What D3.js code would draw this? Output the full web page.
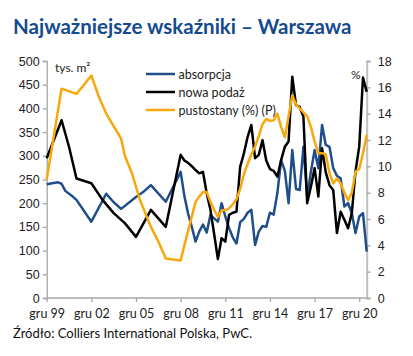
<!DOCTYPE html>
<html><head><meta charset="utf-8">
<script src="https://cdn.jsdelivr.net/npm/d3@7"></script>
<style>body{margin:0;background:#fff}svg{display:block}</style>
</head><body>
<svg id="c" width="413" height="356"></svg>
<script>
const quarters = ["1999Q4",
"2000Q1","2000Q2","2000Q3","2000Q4","2001Q1","2001Q2","2001Q3","2001Q4",
"2002Q1","2002Q2","2002Q3","2002Q4","2003Q1","2003Q2","2003Q3","2003Q4",
"2004Q1","2004Q2","2004Q3","2004Q4","2005Q1","2005Q2","2005Q3","2005Q4",
"2006Q1","2006Q2","2006Q3","2006Q4","2007Q1","2007Q2","2007Q3","2007Q4",
"2008Q1","2008Q2","2008Q3","2008Q4","2009Q1","2009Q2","2009Q3","2009Q4",
"2010Q1","2010Q2","2010Q3","2010Q4","2011Q1","2011Q2","2011Q3","2011Q4",
"2012Q1","2012Q2","2012Q3","2012Q4","2013Q1","2013Q2","2013Q3","2013Q4",
"2014Q1","2014Q2","2014Q3","2014Q4","2015Q1","2015Q2","2015Q3","2015Q4",
"2016Q1","2016Q2","2016Q3","2016Q4","2017Q1","2017Q2","2017Q3","2017Q4",
"2018Q1","2018Q2","2018Q3","2018Q4","2019Q1","2019Q2","2019Q3","2019Q4",
"2020Q1","2020Q2","2020Q3","2020Q4","2021Q1","2021Q2"];
const tickCategories = ["1999Q4","2002Q4","2005Q4","2008Q4","2011Q4","2014Q4","2017Q4","2020Q4"];
const tickLabels = ["gru 99","gru 02","gru 05","gru 08","gru 11","gru 14","gru 17","gru 20"];
const leftTicks = [0,50,100,150,200,250,300,350,400,450,500];
const rightTicks = [0,2,4,6,8,10,12,14,16,18];
const seriesNames = ["absorpcja","nowa podaż","pustostany (%) (P)"];

const absorpcja = [240,null,null,244,241,226,null,214,207,null,null,null,161,null,null,null,220,null,202,null,188,null,null,null,213,null,224,null,238,null,null,null,203,null,null,null,266,
215,178,150,119,140,155,138,175,168,161,200,172,148,128,115,160,167,180,186,112,140,152,150,180,176,222,291,268,200,312,230,228,319,214,266,312,274,365,323,319,274,258,252,193,200,179,137,172,179,98];
const nowaPodaz = [295,null,null,null,375,null,319,null,252,null,null,null,242,null,null,207,null,null,179,null,null,158,null,null,129,null,null,null,186,null,null,null,150,null,null,null,302,
290,285,278,270,263,266,221,186,135,82,126,119,175,180,182,277,305,340,365,295,302,333,290,272,268,256,291,319,330,467,407,403,382,200,235,274,214,316,265,238,228,137,182,165,147,179,268,320,465,435];
const pustostany = [9.0,null,null,null,15.9,null,null,null,15.5,null,null,null,16.9,null,15.3,null,14.0,null,null,null,12.1,10.8,null,9.4,null,7.5,null,null,5.4,null,4.3,null,3.0,null,2.93,null,2.85,
4.0,5.1,6.2,7.3,7.7,8.05,8.05,7.3,6.7,6.15,6.66,6.66,6.8,7.1,7.5,8.3,9.4,10.2,10.9,11.5,12.3,13.2,13.6,13.45,13.5,14.0,13.0,12.2,13.8,15.4,14.7,14.4,14.1,13.8,13.0,11.9,11.0,11.0,10.9,9.5,8.7,9.07,8.7,8.0,7.42,8.0,9.6,9.8,11.0,12.4];

const svg = d3.select("#c");
svg.append("rect").attr("width",413).attr("height",356).attr("fill","#fff");

const x = d3.scaleLinear().domain([0, quarters.length-1]).range([46.7, 366.7]);
const yL = d3.scaleLinear().domain([0,500]).range([298, 61]);
const yR = d3.scaleLinear().domain([0,18]).range([298, 61]);

// title
svg.append("text").attr("x",13).attr("y",34).text("Najważniejsze wskaźniki – Warszawa")
  .attr("font-family","Lato, 'Open Sans', sans-serif").attr("font-weight",700)
  .attr("font-size",20.5).attr("fill","#154a8c");

// axes
const axisColor = "#a6a6a6";
const gL = svg.append("g").attr("transform","translate(46.7,0)")
  .call(d3.axisLeft(yL).tickValues(leftTicks).tickSize(4).tickPadding(3));
const gR = svg.append("g").attr("transform","translate(366.7,0)")
  .call(d3.axisRight(yR).tickValues(rightTicks).tickSize(4).tickPadding(7));
const xIdx = tickCategories.map(c => quarters.indexOf(c));
const gX = svg.append("g").attr("transform","translate(0,298)")
  .call(d3.axisBottom(x).tickValues(xIdx).tickFormat((d,i)=>tickLabels[i]).tickSize(4).tickPadding(7));
[gL,gR,gX].forEach(g=>{
  g.select(".domain").attr("stroke",axisColor).attr("stroke-width",1.3);
  g.selectAll(".tick line").attr("stroke",axisColor).attr("stroke-width",1.3);
  g.selectAll("text").attr("fill","#222").attr("font-size",12.5).attr("font-family","'Liberation Sans', Arial, sans-serif");
});
gR.select(".domain").attr("stroke","#bfbfbf").attr("stroke-width",2);
gX.selectAll("text").attr("font-family","Lato, sans-serif").attr("font-size",12.5);
gX.select(".domain").attr("d", `M46.7,0H366.7`);

// units
svg.append("text").attr("x",55).attr("y",72).text("tys. m²")
  .attr("font-family","Lato, sans-serif").attr("font-size",12).attr("fill","#222");
svg.append("text").attr("x",351).attr("y",79).text("%")
  .attr("font-family","Lato, sans-serif").attr("font-size",12).attr("fill","#222");

// lines
const series = [
  {name:seriesNames[0], values:absorpcja, scale:yL, color:"#1f4e8a"},
  {name:seriesNames[1], values:nowaPodaz, scale:yL, color:"#000000"},
  {name:seriesNames[2], values:pustostany, scale:yR, color:"#f9a80a"}
];
series.forEach(s=>{
  const pts = s.values.map((v,i)=>[i,v]).filter(p=>p[1]!==null);
  svg.append("path").datum(pts)
    .attr("d", d3.line().x(p=>x(p[0])).y(p=>s.scale(p[1])))
    .attr("fill","none").attr("stroke",s.color).attr("stroke-width",2.5).attr("stroke-linejoin","round");
});

// legend
series.forEach((s,i)=>{
  const yy = 74 + i*18;
  svg.append("line").attr("x1",146).attr("x2",175).attr("y1",yy).attr("y2",yy)
    .attr("stroke",s.color).attr("stroke-width",2.5);
  svg.append("text").attr("x",178.5).attr("y",yy+4.5).text(s.name)
    .attr("font-family","Lato, sans-serif").attr("font-size",12.5).attr("fill","#222");
});

// source
svg.append("text").attr("x",13).attr("y",338).text("Źródło: Colliers International Polska, PwC.")
  .attr("font-family","Lato, sans-serif").attr("font-size",13).attr("fill","#111");
</script>
</body></html>
